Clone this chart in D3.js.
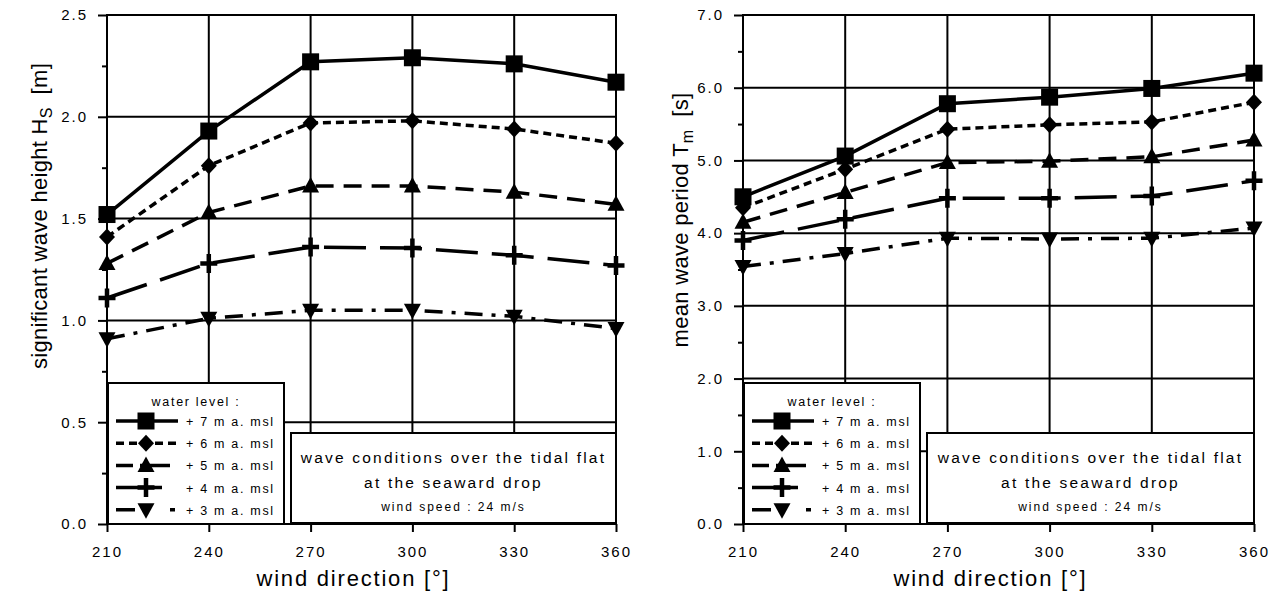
<!DOCTYPE html>
<html>
<head>
<meta charset="utf-8">
<script src="https://cdn.jsdelivr.net/npm/d3@7"></script>
<style>
  body { margin: 0; background: #fff; }
  text { font-family: "Liberation Sans", Arial, sans-serif; fill: #000; white-space: pre; }
</style>
</head>
<body>
<script>
// wind directions (x values)
var directions = [210, 240, 270, 300, 330, 360];

// legend labels for water levels
var levelLabels = ["+ 7 m a. msl", "+ 6 m a. msl", "+ 5 m a. msl", "+ 4 m a. msl", "+ 3 m a. msl"];

// significant wave height Hs [m]
var hs7 = [1.52, 1.93, 2.27, 2.29, 2.26, 2.17];
var hs6 = [1.41, 1.76, 1.97, 1.98, 1.94, 1.87];
var hs5 = [1.28, 1.53, 1.66, 1.66, 1.63, 1.57];
var hs4 = [1.11, 1.28, 1.36, 1.355, 1.32, 1.27];
var hs3 = [0.91, 1.01, 1.05, 1.05, 1.02, 0.96];

// mean wave period Tm [s]
var tm7 = [4.50, 5.06, 5.78, 5.87, 5.99, 6.20];
var tm6 = [4.35, 4.88, 5.43, 5.49, 5.53, 5.80];
var tm5 = [4.15, 4.56, 4.97, 4.99, 5.05, 5.28];
var tm4 = [3.90, 4.19, 4.48, 4.48, 4.51, 4.72];
var tm3 = [3.54, 3.72, 3.93, 3.92, 3.93, 4.07];

// tick labels
var hsTicks = [0.0, 0.5, 1.0, 1.5, 2.0, 2.5];
var tmTicks = [0, 1, 2, 3, 4, 5, 6, 7];

var W = 1285, H = 601;
var svg = d3.select("body").append("svg").attr("width", W).attr("height", H);

// line styles per water level (legend samples drawn a bit differently, like the original)
var styles = [
  {dash: null,       marker: "square",       legDash: null,              legLen: 62},
  {dash: "8,5",      marker: "diamond",      legDash: "8,5",             legLen: 62},
  {dash: "18,10",    marker: "triangle",     legDash: "17,7,100",        legLen: 54},
  {dash: "42,14",    marker: "plus",         legDash: null,              legLen: 46},
  {dash: "18,9,4,9", marker: "triangleDown", legDash: "19,35,5,100",     legLen: 62}
];

function drawMarker(g, type, x, y){
  var t = "translate(" + x + "," + y + ")";
  if(type == "square"){
    g.append("rect").attr("x", x-8.5).attr("y", y-8.5).attr("width", 17).attr("height", 17).attr("fill", "#000");
  } else if(type == "diamond"){
    g.append("path").attr("d", "M0,-8.5L8,0L0,8.5L-8,0Z").attr("transform", t).attr("fill", "#000");
  } else if(type == "triangle"){
    g.append("path").attr("d", "M0,-9L8.5,6.5L-8.5,6.5Z").attr("transform", t).attr("fill", "#000");
  } else if(type == "triangleDown"){
    g.append("path").attr("d", "M0,9L8.5,-6.5L-8.5,-6.5Z").attr("transform", t).attr("fill", "#000");
  } else if(type == "plus"){
    g.append("path").attr("d", "M-8.5,0H8.5M0,-9.5V9.5").attr("transform", t)
      .attr("stroke", "#000").attr("stroke-width", 4.5).attr("fill", "none");
  }
}

function drawPanel(opt){
  var x0 = opt.x0, x1 = opt.x1, yTop = 15, yBot = 524;
  var g = svg.append("g");

  var xScale = d3.scaleLinear().domain([210, 360]).range([x0, x1]);
  var yScale = d3.scaleLinear().domain(opt.yDomain).range([yBot, yTop]);

  // grid lines
  g.selectAll(".vgrid").data(directions).enter().append("line")
    .attr("x1", function(d){ return xScale(d); }).attr("x2", function(d){ return xScale(d); })
    .attr("y1", yTop).attr("y2", yBot)
    .attr("stroke", "#000").attr("stroke-width", 2);
  g.selectAll(".hgrid").data(opt.gridVals).enter().append("line")
    .attr("x1", x0).attr("x2", x1)
    .attr("y1", function(d){ return yScale(d); }).attr("y2", function(d){ return yScale(d); })
    .attr("stroke", "#000").attr("stroke-width", 2);

  // axes
  var yAxis = d3.axisLeft(yScale).tickValues(opt.yTicks).tickSize(9).tickPadding(10)
    .tickFormat(d3.format(".1f"));
  var yMinor = d3.axisLeft(yScale).tickValues(opt.yMinor).tickSize(5).tickFormat("");
  var xAxis = d3.axisBottom(xScale).tickValues(directions).tickSize(8).tickPadding(14)
    .tickFormat(function(d){ return d; });

  var ya = g.append("g").attr("transform", "translate(" + x0 + ",0)").call(yAxis);
  g.append("g").attr("transform", "translate(" + x0 + ",0)").call(yMinor);
  var xa = g.append("g").attr("transform", "translate(0," + yBot + ")").call(xAxis);
  g.selectAll(".domain").remove();
  g.selectAll(".tick line").attr("stroke", "#000").attr("stroke-width", 2);
  ya.selectAll("text").attr("font-size", 15).attr("letter-spacing", 2)
    .attr("font-family", "Liberation Sans, Arial, sans-serif");
  xa.selectAll("text").attr("font-size", 15).attr("letter-spacing", 2)
    .attr("font-family", "Liberation Sans, Arial, sans-serif");

  // frame
  g.append("rect").attr("x", x0).attr("y", yTop).attr("width", x1 - x0).attr("height", yBot - yTop)
    .attr("fill", "none").attr("stroke", "#000").attr("stroke-width", 2);

  // series
  var line = d3.line()
    .x(function(d, i){ return xScale(directions[i]); })
    .y(function(d){ return yScale(d); });

  opt.series.forEach(function(s, k){
    g.append("path").datum(s).attr("d", line)
      .attr("fill", "none").attr("stroke", "#000").attr("stroke-width", 3.5)
      .attr("stroke-dasharray", styles[k].dash);
  });
  opt.series.forEach(function(s, k){
    s.forEach(function(v, i){
      drawMarker(g, styles[k].marker, xScale(directions[i]), yScale(v));
    });
  });

  // legend box
  var lx = x0 + 1, ly = 383, lw = 176, lh = yBot - ly;
  g.append("rect").attr("x", lx).attr("y", ly).attr("width", lw).attr("height", lh)
    .attr("fill", "#fff").attr("stroke", "#000").attr("stroke-width", 2);
  g.append("text").attr("x", lx + lw/2).attr("y", ly + 23).attr("text-anchor", "middle")
    .attr("font-size", 12.5).attr("letter-spacing", 1.7).text("water level :");
  levelLabels.forEach(function(lab, k){
    var cy = ly + 38 + k * 22.2;
    g.append("line").attr("x1", lx + 8).attr("x2", lx + 8 + styles[k].legLen).attr("y1", cy).attr("y2", cy)
      .attr("stroke", "#000").attr("stroke-width", 3.5)
      .attr("stroke-dasharray", styles[k].legDash);
    drawMarker(g, styles[k].marker, lx + 38, cy);
    g.append("text").attr("x", lx + 78).attr("y", cy + 5)
      .attr("font-size", 12.5).attr("letter-spacing", 1.7).text(lab);
  });

  // annotation box
  var ax = x0 + 184, ay = 433, aw = x1 - ax, ah = 90;
  g.append("rect").attr("x", ax).attr("y", ay).attr("width", aw).attr("height", ah)
    .attr("fill", "#fff").attr("stroke", "#000").attr("stroke-width", 2);
  var acx = ax + aw / 2;
  g.append("text").attr("x", acx).attr("y", ay + 30).attr("text-anchor", "middle")
    .attr("font-size", 15.5).attr("letter-spacing", 2.2).text("wave conditions over the tidal flat");
  g.append("text").attr("x", acx).attr("y", ay + 55).attr("text-anchor", "middle")
    .attr("font-size", 15.5).attr("letter-spacing", 2.2).text("at the seaward drop");
  g.append("text").attr("x", acx).attr("y", ay + 78).attr("text-anchor", "middle")
    .attr("font-size", 12).attr("letter-spacing", 2).text("wind speed : 24 m/s");

  // x title
  g.append("text").attr("x", (x0 + x1) / 2 - 8).attr("y", 586).attr("text-anchor", "middle")
    .attr("font-size", 22).attr("letter-spacing", 1.8).text("wind direction [°]");

  // y title
  var yt = g.append("text").attr("transform", "translate(" + opt.titleX + "," + opt.titleY + ") rotate(-90)")
    .attr("text-anchor", "middle").attr("font-size", 22).attr("letter-spacing", 0.3);
  yt.append("tspan").text(opt.yTitle[0]);
  yt.append("tspan").attr("font-size", 16).attr("dy", 5).text(opt.yTitle[1]);
  yt.append("tspan").attr("dy", -5).text(opt.yTitle[2]);
}

drawPanel({
  x0: 107, x1: 616,
  yDomain: [0, 2.5],
  yTicks: hsTicks,
  yMinor: [0.25, 0.75, 1.25, 1.75, 2.25],
  gridVals: [0.5, 1.0, 1.5, 2.0],
  series: [hs7, hs6, hs5, hs4, hs3],
  yTitle: ["significant wave height H", "S", "  [m]"],
  titleX: 47, titleY: 216
});

drawPanel({
  x0: 743, x1: 1254,
  yDomain: [0, 7],
  yTicks: tmTicks,
  yMinor: [0.5, 1.5, 2.5, 3.5, 4.5, 5.5, 6.5],
  gridVals: [1, 2, 3, 4, 5, 6],
  series: [tm7, tm6, tm5, tm4, tm3],
  yTitle: ["mean wave period T", "m", "  [s]"],
  titleX: 688, titleY: 220
});
</script>
</body>
</html>
